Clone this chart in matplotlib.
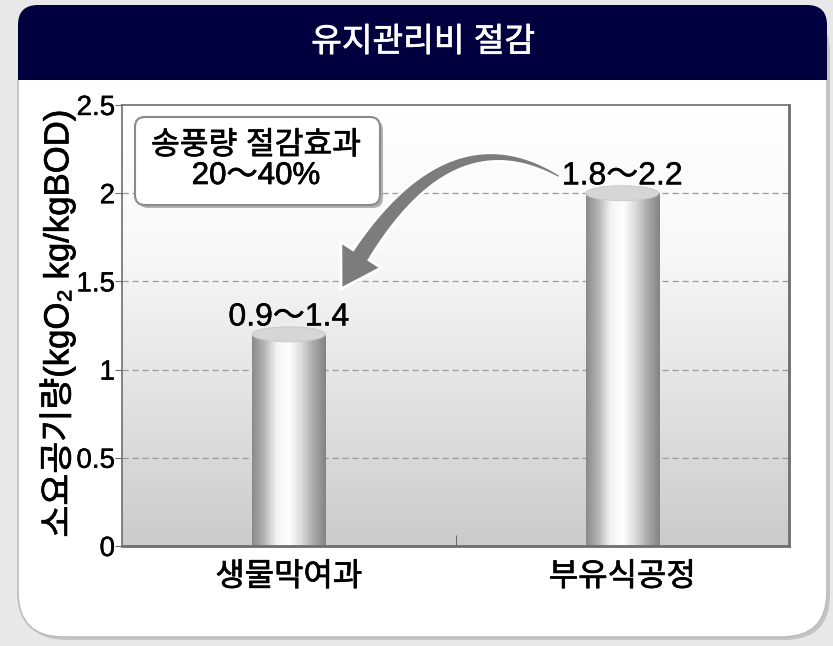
import numpy as np
import matplotlib
matplotlib.use("Agg")
import matplotlib.pyplot as plt
import matplotlib.patheffects as pe
from matplotlib.colors import LinearSegmentedColormap
from matplotlib.patches import FancyBboxPatch, Polygon, Ellipse, Rectangle

plt.rcParams['font.family'] = ['Liberation Sans', 'Noto Sans CJK KR', 'DejaVu Sans']

# data
categories = ['생물막여과', '부유식공정']
values = [1.2, 2.0]
value_labels = ['0.9～1.4', '1.8～2.2']
yticks = [0, 0.5, 1, 1.5, 2, 2.5]
ytick_labels = ['0', '0.5', '1', '1.5', '2', '2.5']
title = '유지관리비 절감'
ylabel = '소요공기량(kgO₂ kg/kgBOD)'
note = '송풍량 절감효과\n20～40%'

# slightly heavier strokes for the gothic lettering
heavy = [pe.withStroke(linewidth=0.5, foreground='black')]
heavy_w = [pe.withStroke(linewidth=0.5, foreground='white')]
light = [pe.withStroke(linewidth=0.3, foreground='black')]

W, H = 833, 646
fig = plt.figure(figsize=(W / 100, H / 100), dpi=100)
fig.patch.set_facecolor('#e8e8e8')

# pixel-space canvas for the card and header
bg = fig.add_axes([0, 0, 1, 1], zorder=0)
bg.set_xlim(0, W)
bg.set_ylim(H, 0)
bg.axis('off')

bg.add_patch(FancyBboxPatch((21, 8), 809, 632, boxstyle='round,pad=0,rounding_size=45',
                            facecolor='#c4c4c4', edgecolor='none'))
body = FancyBboxPatch((18, 30), 809, 607, boxstyle='round,pad=0,rounding_size=45',
                      facecolor='white', edgecolor='#bdbdbd', lw=1.2)
bg.add_patch(body)
body.set_clip_path(Rectangle((0, 79), W, H, transform=bg.transData))
header = FancyBboxPatch((18, 5), 809, 120, boxstyle='round,pad=0,rounding_size=20',
                        facecolor='#00003f', edgecolor='none')
bg.add_patch(header)
header.set_clip_path(Rectangle((0, 0), W, 80, transform=bg.transData))
bg.text(423, 43, title, color='white', fontsize=24, ha='center', va='center',
        path_effects=heavy_w)

# chart area
ax = fig.add_axes([122 / W, 1 - 546 / H, 667 / W, 441 / H], zorder=1)

bg_cmap = LinearSegmentedColormap.from_list('bg', ['#cbcbcb', '#e2e2e2', '#f8f8f8', '#ffffff'])
ax.imshow(np.linspace(0, 1, 256).reshape(-1, 1), extent=[-0.5, 1.5, 0, 2.5], origin='lower',
          aspect='auto', cmap=bg_cmap, zorder=0)

for y in yticks[1:-1]:
    ax.axhline(y, color='#9a9a9a', lw=0.9, ls=(0, (5, 3)), zorder=1)

# cylinder bars
cyl_cmap = LinearSegmentedColormap.from_list(
    'cyl', ['#8a8a8a', '#b5b5b5', '#f4f4f4', '#ffffff', '#dcdcdc', '#a9a9a9', '#838383'])
x = np.arange(len(categories))
bars = ax.bar(x, values, width=0.22, color='none', zorder=2)
for bar, lab in zip(bars, value_labels):
    x0, w, h = bar.get_x(), bar.get_width(), bar.get_height()
    ax.imshow(np.linspace(0, 1, 256).reshape(1, -1), extent=[x0, x0 + w, 0, h],
              aspect='auto', cmap=cyl_cmap, zorder=2)
    ax.add_patch(Ellipse((x0 + w / 2, h), w, 0.085, facecolor='#d6d6d6',
                         edgecolor='#c8c8c8', lw=0.6, zorder=3))
    ax.text(x0 + w / 2, h + 0.05, lab, ha='center', va='baseline', fontsize=23, zorder=4,
            path_effects=light)
ax.set_xlim(-0.5, 1.5)
ax.set_ylim(0, 2.5)

# axes styling
for side in ['top', 'left']:
    ax.spines[side].set_linewidth(1.2)
for side in ['right', 'bottom']:
    ax.spines[side].set_linewidth(2.0)
for s in ax.spines.values():
    s.set_color('#6e6e6e')
    s.set_zorder(5)

ax.set_yticks(yticks, ytick_labels, fontsize=20)
ax.tick_params(axis='y', length=5, color='#6e6e6e', pad=0)
ax.set_xticks(x, categories, fontsize=23)
ax.tick_params(axis='x', length=0, pad=12)
ax.set_xticks([0.5], minor=True)
ax.tick_params(axis='x', which='minor', direction='in', length=8, color='#555555')
for lbl in ax.get_xticklabels():
    lbl.set_path_effects(heavy)
for lbl in ax.get_yticklabels():
    lbl.set_path_effects(light)
ax.set_ylabel(ylabel, fontsize=25, path_effects=heavy)
ax.yaxis.set_label_coords(-0.07, 0.505)

# callout box and curved arrow, drawn on top
fg = fig.add_axes([0, 0, 1, 1], zorder=3)
fg.set_xlim(0, W)
fg.set_ylim(H, 0)
fg.axis('off')
fg.patch.set_alpha(0)
fg.add_patch(FancyBboxPatch((138, 120), 245, 88, boxstyle='round,pad=0,rounding_size=10',
                            facecolor='#b0b0b0', edgecolor='none'))
fg.add_patch(FancyBboxPatch((135, 117), 245, 88, boxstyle='round,pad=0,rounding_size=10',
                            facecolor='white', edgecolor='#8a8a8a', lw=1.5))
fg.text(256, 161, note, ha='center', va='center', fontsize=22.5, linespacing=1.0,
        path_effects=heavy)

# tapered curved arrow along a quadratic curve
p0 = np.array([560.0, 177.0])
c = np.array([440.0, 106.0])
p2 = np.array([341.0, 289.0])
t = np.linspace(0, 1, 400)[:, None]
curve = (1 - t) ** 2 * p0 + 2 * (1 - t) * t * c + t ** 2 * p2
seg = np.r_[0, np.cumsum(np.hypot(*np.diff(curve, axis=0).T))]
head_len = 40
n_head = np.searchsorted(seg, seg[-1] - head_len)
shaft = curve[:n_head + 1]
tang = np.gradient(shaft, axis=0)
tang /= np.hypot(tang[:, 0], tang[:, 1])[:, None]
norm = np.c_[-tang[:, 1], tang[:, 0]]
half = np.linspace(2.0, 9.5, len(shaft))[:, None]
left = shaft + norm * half
right = shaft - norm * half
base = shaft[-1]
head_l = base + norm[-1] * 24
head_r = base - norm[-1] * 24
outline = np.vstack([left, head_l, p2, head_r, right[::-1]])
fg.add_patch(Polygon(outline, closed=True, facecolor='#7c7c7c', edgecolor='white',
                     lw=2, joinstyle='miter'))

fig.savefig('out.png', dpi=100, facecolor=fig.get_facecolor())
